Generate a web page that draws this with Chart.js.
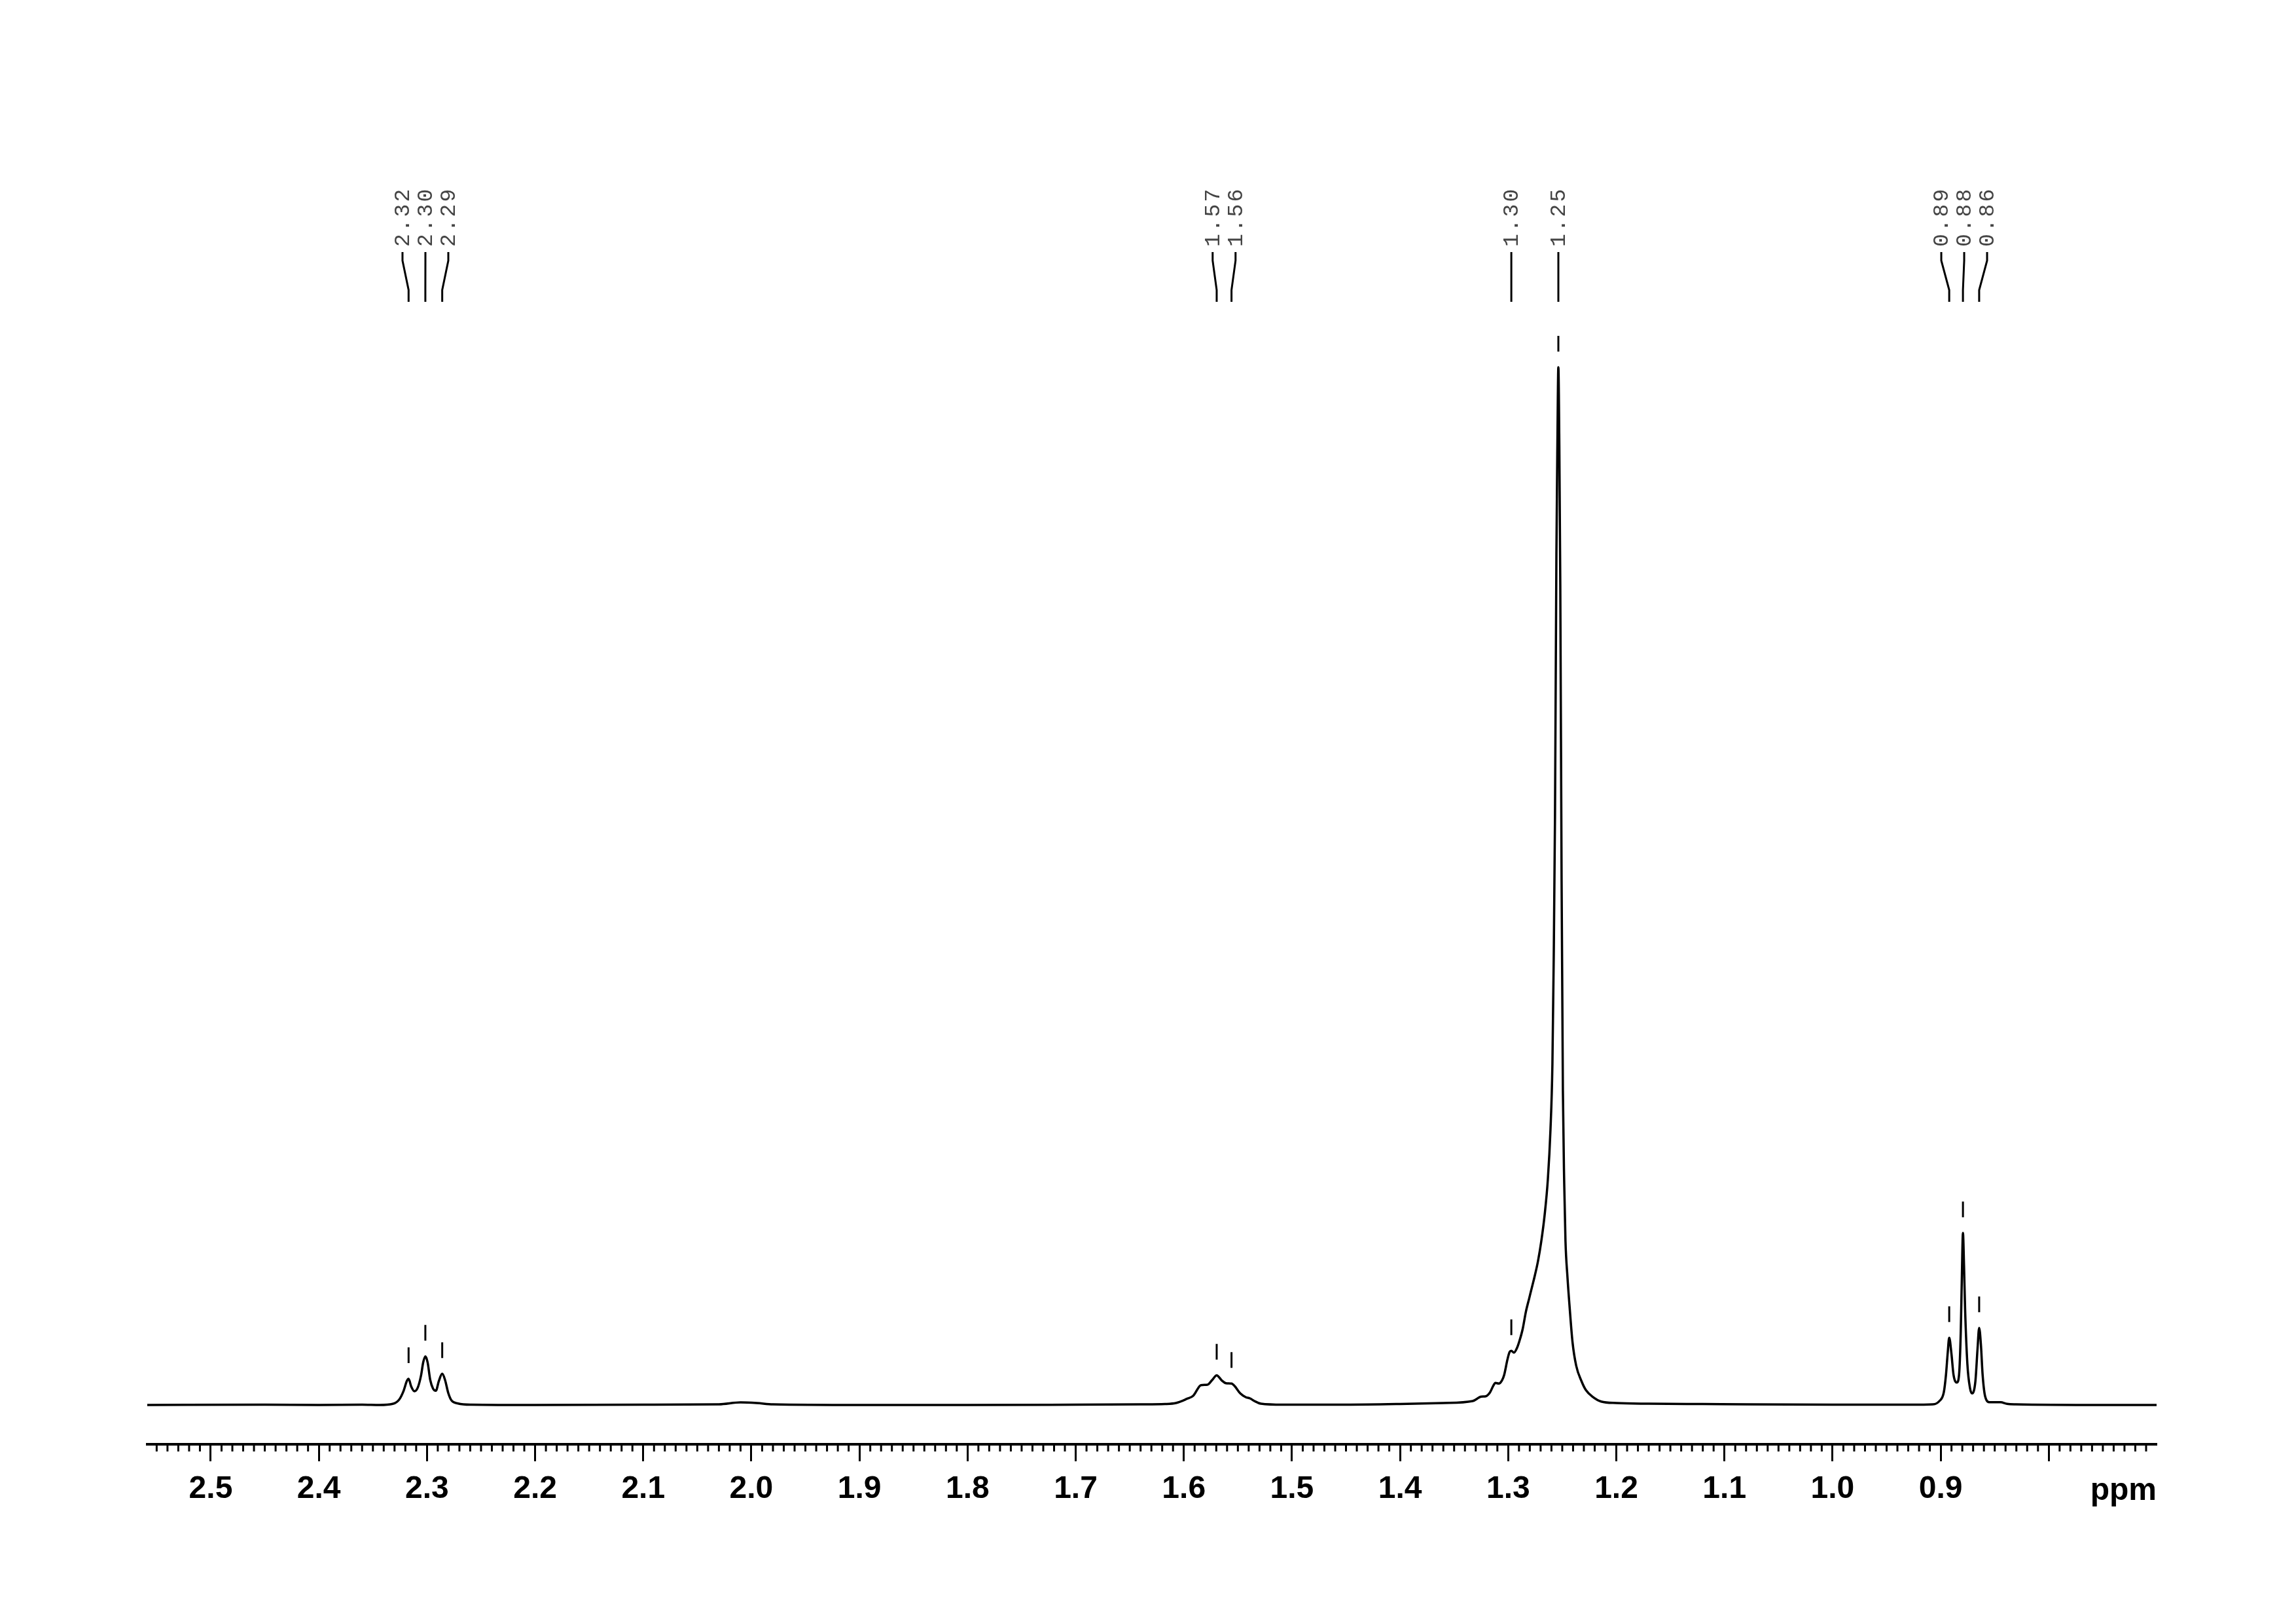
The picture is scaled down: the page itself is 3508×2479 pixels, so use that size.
<!DOCTYPE html>
<html>
<head>
<meta charset="utf-8">
<title>1H NMR spectrum</title>
<script src="https://cdn.jsdelivr.net/npm/chart.js@4.4.1/dist/chart.umd.min.js"></script>
<style>
    html, body { margin: 0; padding: 0; background: #fff; }
    canvas { display: block; }
</style>
</head>
<body>
<canvas id="nmrChart" width="3508" height="2479"></canvas>
<script>
// chemical shift (ppm) from left to right
const shiftPpm = [
    2.5587, 2.45, 2.40, 2.36, 2.3438, 2.3317, 2.3257, 2.3216, 2.3186, 2.3170,
    2.3146, 2.3116, 2.3085, 2.3055, 2.3035, 2.3015, 2.2994, 2.2970, 2.2944, 2.2918,
    2.2890, 2.2859, 2.2833, 2.2803, 2.2772, 2.2712, 2.2591, 2.20, 2.10, 2.03,
    2.01, 1.995, 1.98, 1.90, 1.80, 1.70, 1.64, 1.6174, 1.6073, 1.5973,
    1.5912, 1.5841, 1.5781, 1.5740, 1.5696, 1.5650, 1.5610, 1.5559, 1.5529, 1.5478,
    1.5428, 1.5387, 1.5347, 1.5287, 1.5085, 1.45, 1.40, 1.36, 1.3329, 1.3249,
    1.3208, 1.3168, 1.3138, 1.3118, 1.3087, 1.3057, 1.3037, 1.3007, 1.2987, 1.2971,
    1.2947, 1.2917, 1.2896, 1.2866, 1.2836, 1.2806, 1.2776, 1.2756, 1.2724, 1.2694,
    1.2663, 1.2633, 1.2609, 1.2591, 1.2579, 1.2567, 1.2554, 1.2545, 1.2536, 1.2527,
    1.2518, 1.2506, 1.2494, 1.2482, 1.2470, 1.2452, 1.2432, 1.2405, 1.2371, 1.2321,
    1.2281, 1.2220, 1.2140, 1.20, 1.17, 1.12, 1.08, 1.00, 0.95, 0.9274,
    0.9072, 0.9012, 0.8971, 0.8951, 0.8935, 0.8921, 0.8901, 0.8881, 0.8850, 0.8830,
    0.8814, 0.8804, 0.8794, 0.8784, 0.8774, 0.8753, 0.8729, 0.8709, 0.8679, 0.8659,
    0.8644, 0.8628, 0.8612, 0.8588, 0.8547, 0.8446, 0.8386, 0.8305, 0.75, 0.7003
];
// intensity (arbitrary units)
const intensity = [
    0, 0.5, 0, 0.5, 0, 1.7, 8.3, 21.7, 36.7, 40,
    28.3, 21, 26.7, 45, 65, 74.3, 65, 38.3, 25, 21.7,
    36.7, 47.7, 38.3, 18.3, 6.7, 2.3, 0.5, 0, 0.5, 1,
    4, 3, 1, 0, 0, 0.5, 1, 1.5, 3, 9.3,
    14.3, 30.3, 31, 37.7, 45.3, 37.7, 33.3, 32.7, 28.7, 17.7,
    12, 10, 6, 2, 0.5, 0.5, 1.5, 3, 6, 12.7,
    13.3, 19.3, 29.3, 33.7, 32.7, 37.7, 46, 69.3, 81, 82.7,
    80, 87.7, 97.7, 116, 142.7, 162.7, 182.7, 196, 220, 250,
    290, 345, 420, 520, 680, 900, 1300, 1466, 1585, 1466,
    1250, 800, 480, 340, 250, 196, 150, 96, 60, 36,
    22.7, 12.7, 5.3, 3, 2, 1.5, 1, 0.5, 0.5, 0.5,
    1, 6, 19.3, 46, 79.3, 102.7, 79.3, 46, 34.3, 46,
    112.7, 196, 262.7, 212.7, 146, 62.7, 26, 17.7, 36, 86,
    117.7, 92.7, 46, 12.7, 4.3, 4.3, 1.7, 1, 0, 0
];

// axis ticks
const majorTicks = [2.5, 2.4, 2.3, 2.2, 2.1, 2.0, 1.9, 1.8, 1.7, 1.6, 1.5, 1.4, 1.3, 1.2, 1.1, 1.0, 0.9, 0.8];
const tickLabels = ['2.5', '2.4', '2.3', '2.2', '2.1', '2.0', '1.9', '1.8', '1.7', '1.6', '1.5', '1.4', '1.3', '1.2', '1.1', '1.0', '0.9', ''];

// peak picking
const peakPpm = [2.3170, 2.3015, 2.2859, 1.5696, 1.5559, 1.2971, 1.2536, 0.8921, 0.8794, 0.8644];
const peakHeights = [40, 74.3, 47.7, 45.3, 32.7, 82.7, 1585, 102.7, 262.7, 117.7];
const peakLabels = ['2.32', '2.30', '2.29', '1.57', '1.56', '1.30', '1.25', '0.89', '0.88', '0.86'];

// spread label columns so that neighbours keep a minimum gap
function spreadLabels(xs, gap) {
    const out = xs.slice();
    let start = 0;
    for (let i = 1; i <= xs.length; i++) {
        if (i === xs.length || xs[i] - xs[i - 1] >= gap) {
            const n = i - start;
            const mid = (xs[start] + xs[i - 1]) / 2;
            for (let k = 0; k < n; k++) out[start + k] = mid + (k - (n - 1) / 2) * gap;
            start = i;
        }
    }
    return out;
}

const spectrumDecor = {
    id: 'spectrumDecor',
    afterDraw(chart) {
        const ctx = chart.ctx;
        const xs = chart.scales.x;
        const ys = chart.scales.y;
        const axisY = chart.chartArea.bottom;
        ctx.save();
        ctx.strokeStyle = '#000';
        ctx.fillStyle = '#000';

        // minor ticks every 0.01 ppm
        ctx.lineWidth = 3;
        for (let i = 71; i <= 255; i++) {
            if (i % 10 === 0) continue;
            const px = xs.getPixelForValue(i / 100);
            ctx.beginPath();
            ctx.moveTo(px, axisY);
            ctx.lineTo(px, axisY + 11);
            ctx.stroke();
        }

        // unit
        ctx.font = 'bold 48px "Liberation Sans", Arial, sans-serif';
        ctx.textAlign = 'right';
        ctx.textBaseline = 'alphabetic';
        ctx.fillText('ppm', chart.chartArea.right, 2291);

        // peak markers and labels
        const peakX = peakPpm.map(p => xs.getPixelForValue(p));
        const labelX = spreadLabels(peakX, 35);
        ctx.lineWidth = 3;
        peakX.forEach((px, i) => {
            const py = ys.getPixelForValue(peakHeights[i]);
            ctx.beginPath();
            ctx.moveTo(px, py - 24);
            ctx.lineTo(px, py - 48);
            ctx.stroke();

            const lx = labelX[i];
            ctx.beginPath();
            ctx.moveTo(lx, 385);
            ctx.lineTo(lx, 398);
            ctx.lineTo(px, 443);
            ctx.lineTo(px, 461);
            ctx.stroke();
        });

        ctx.font = '33px "Liberation Mono", "DejaVu Sans Mono", monospace';
        ctx.letterSpacing = '3px';
        ctx.fillStyle = '#444';
        ctx.textAlign = 'left';
        ctx.textBaseline = 'middle';
        labelX.forEach((lx, i) => {
            ctx.save();
            ctx.translate(lx + 1, 377);
            ctx.rotate(-Math.PI / 2);
            ctx.fillText(peakLabels[i], 0, 0);
            ctx.restore();
        });
        ctx.restore();
    }
};

function initSpectrum() {
    const ctx = document.getElementById('nmrChart').getContext('2d');
    const points = shiftPpm.map((p, i) => ({ x: p, y: intensity[i] }));
    return new Chart(ctx, {
        type: 'line',
        data: {
            datasets: [{
                data: points,
                borderColor: '#000',
                borderWidth: 3.5,
                pointRadius: 0,
                fill: false,
                cubicInterpolationMode: 'monotone'
            }]
        },
        options: {
            responsive: false,
            animation: false,
            devicePixelRatio: 1,
            layout: { padding: { top: 120, left: 225, right: 213, bottom: 0 } },
            plugins: { legend: { display: false }, tooltip: { enabled: false } },
            scales: {
                x: {
                    type: 'linear',
                    reverse: true,
                    min: 0.7003,
                    max: 2.5587,
                    afterBuildTicks: scale => { scale.ticks = majorTicks.map(v => ({ value: v })); },
                    afterFit: scale => { scale.height = 273; },
                    border: { display: true, color: '#000', width: 4 },
                    grid: { display: true, drawOnChartArea: false, drawTicks: true, tickLength: 26, tickWidth: 3, tickColor: '#000' },
                    ticks: {
                        autoSkip: false,
                        maxRotation: 0,
                        padding: 14,
                        color: '#000',
                        font: { family: '"Liberation Sans", Arial, sans-serif', weight: 'bold', size: 48 },
                        callback: value => {
                            const i = majorTicks.findIndex(v => Math.abs(v - value) < 1e-6);
                            return i >= 0 ? tickLabels[i] : '';
                        }
                    }
                },
                y: {
                    display: false,
                    min: -60,
                    max: 2026
                }
            }
        },
        plugins: [spectrumDecor]
    });
}

document.addEventListener('DOMContentLoaded', () => {
    initSpectrum();
});
</script>
</body>
</html>
